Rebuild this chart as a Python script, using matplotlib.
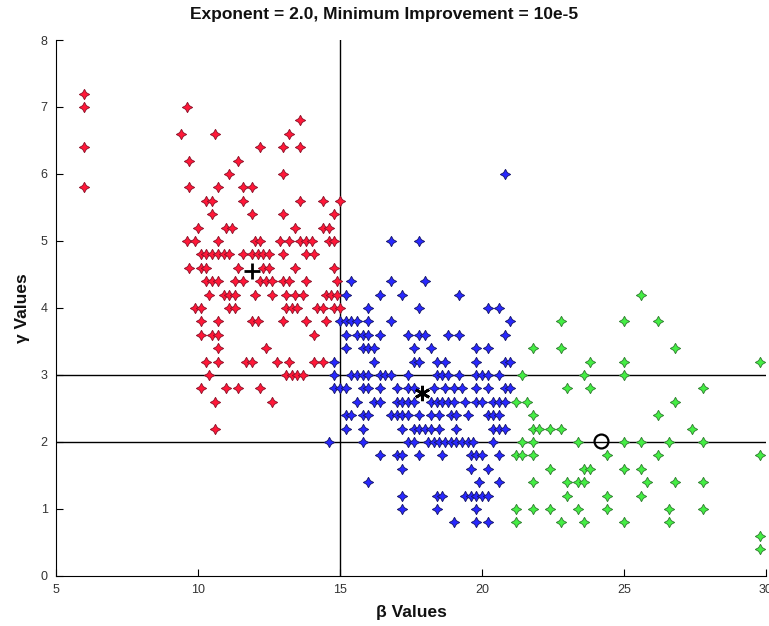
import matplotlib
matplotlib.use("Agg")
import matplotlib.pyplot as plt

# ---- data ----
red_row_y = [7.2, 7.0, 6.8, 6.6, 6.4, 6.2, 6.0, 5.8, 5.6, 5.4, 5.2, 5.0, 4.8, 4.6,
             4.4, 4.2, 4.0, 3.8, 3.6, 3.4, 3.2, 3.0, 2.8, 2.6, 2.2]
red_row_x = [
    [6.0],
    [6.0, 9.6],
    [13.6],
    [9.4, 10.6, 13.2],
    [6.0, 12.2, 13.0, 13.6],
    [9.7, 11.4],
    [11.1, 13.0],
    [6.0, 9.7, 10.7, 11.6, 11.9],
    [10.3, 10.5, 11.6, 13.6, 14.4, 15.0],
    [10.5, 11.9, 13.0, 14.8],
    [10.0, 11.0, 11.2, 13.4, 14.4, 14.6],
    [9.6, 9.9, 10.7, 12.0, 12.2, 12.9, 13.2, 13.6, 13.8, 14.0, 14.6, 14.8],
    [10.1, 10.3, 10.5, 10.7, 10.9, 11.1, 11.6, 11.9, 12.1, 12.3, 12.5, 13.0, 13.8, 14.1],
    [9.7, 10.1, 10.3, 11.4, 12.3, 12.5, 13.4, 14.8],
    [10.3, 10.5, 10.7, 11.3, 11.6, 12.2, 12.4, 12.6, 13.0, 13.2, 13.8, 14.9],
    [10.4, 10.9, 11.1, 11.3, 12.0, 12.6, 13.1, 13.4, 13.7, 14.5, 14.7, 14.9],
    [9.9, 10.1, 11.1, 11.3, 13.1, 13.3, 13.5, 14.2, 14.4, 14.8, 15.0],
    [10.1, 10.7, 11.9, 12.1, 13.0, 13.8, 14.5],
    [10.1, 10.5, 10.7, 14.1],
    [10.7, 12.4],
    [10.3, 10.7, 11.7, 11.9, 12.8, 13.2, 14.1, 14.4],
    [10.4, 13.1, 13.3, 13.5, 13.7],
    [10.1, 11.0, 11.4, 12.2],
    [10.6, 12.6],
    [10.6],
]

blue_row_y = [6.0, 5.0, 4.4, 4.2, 4.0, 3.8, 3.6, 3.4, 3.2, 3.0, 2.8, 2.6, 2.4, 2.2,
              2.0, 1.8, 1.6, 1.4, 1.2, 1.0, 0.8]
blue_row_x = [
    [20.8],
    [16.8, 17.8],
    [15.4, 16.8, 18.0],
    [15.2, 16.4, 17.2, 19.2],
    [16.0, 17.8, 20.2, 20.6],
    [15.0, 15.2, 15.4, 15.6, 16.0, 16.8, 21.0],
    [15.2, 15.6, 15.8, 16.0, 16.4, 17.4, 17.8, 18.0, 18.8, 19.2, 20.8],
    [15.2, 15.8, 16.0, 16.2, 17.6, 18.2, 19.8, 20.2],
    [14.8, 16.2, 17.6, 17.8, 18.4, 18.7, 19.8, 20.8, 21.0],
    [14.8, 15.4, 15.6, 15.8, 16.0, 16.4, 16.6, 16.8, 17.4, 18.4, 18.6, 18.8, 19.2,
     19.8, 20.0, 20.2, 20.6],
    [14.8, 15.0, 15.2, 15.8, 16.0, 16.4, 17.0, 17.4, 17.6, 18.3, 18.7, 19.0, 19.3,
     19.8, 20.2, 20.8, 21.0],
    [15.6, 16.2, 16.4, 17.0, 17.2, 17.4, 17.6, 18.2, 18.4, 18.6, 18.8, 19.0, 19.4,
     19.8, 20.0, 20.4, 20.6, 20.8],
    [15.2, 15.4, 15.8, 16.0, 16.8, 17.0, 17.2, 17.4, 17.8, 18.2, 18.5, 18.9, 19.1,
     19.5, 20.2, 20.4, 20.6],
    [15.2, 15.8, 17.2, 17.6, 17.8, 18.0, 18.2, 18.5, 19.1, 20.4, 20.6, 20.8],
    [14.6, 15.8, 17.4, 17.6, 18.1, 18.3, 18.5, 18.7, 18.9, 19.1, 19.3, 19.5, 19.7, 20.4],
    [16.4, 17.0, 17.2, 17.8, 18.6, 19.6, 19.8, 20.0, 20.6],
    [17.2, 19.6, 20.2],
    [16.0, 19.9, 20.6],
    [17.2, 18.4, 18.6, 19.4, 19.6, 19.8, 20.0, 20.2],
    [17.2, 18.4, 19.8],
    [19.0, 19.8, 20.2],
]

green_row_y = [4.2, 3.8, 3.4, 3.2, 3.0, 2.8, 2.6, 2.4, 2.2, 2.0, 1.8, 1.6, 1.4, 1.2,
               1.0, 0.8, 0.6, 0.4]
green_row_x = [
    [25.6],
    [22.8, 25.0, 26.2],
    [21.8, 22.8, 26.8],
    [23.8, 25.0, 29.8],
    [21.4, 23.6, 25.0],
    [23.0, 23.8, 27.8],
    [21.2, 21.6, 26.8],
    [21.8, 26.2],
    [21.8, 22.0, 22.4, 22.8, 27.4],
    [21.4, 21.8, 23.4, 25.0, 25.6, 26.6, 27.8],
    [21.2, 21.4, 21.8, 24.4, 26.2, 29.8],
    [22.4, 23.6, 23.8, 25.0, 25.6],
    [21.8, 23.0, 23.4, 23.6, 25.8, 26.8, 27.8],
    [23.0, 24.4, 25.6],
    [21.2, 21.8, 22.4, 23.4, 24.4, 26.6, 27.8],
    [21.2, 22.8, 23.6, 25.0, 26.6],
    [29.8],
    [29.8],
]

centroid_red = (11.9, 4.55)
centroid_blue = (17.9, 2.73)
centroid_green = (24.2, 2.02)

v_line_x = 15
h_lines_y = [3, 2]

x_ticks = [5, 10, 15, 20, 25, 30]
y_ticks = [0, 1, 2, 3, 4, 5, 6, 7, 8]

title = "Exponent = 2.0, Minimum Improvement = 10e-5"
x_label = "β Values"
y_label = "γ Values"


def expand(row_y, row_x):
    xs, ys = [], []
    for y, xl in zip(row_y, row_x):
        for x in xl:
            xs.append(x)
            ys.append(y)
    return xs, ys


plt.rcParams['font.family'] = ['Liberation Sans', 'DejaVu Sans']

fig = plt.figure(figsize=(7.69, 6.26), dpi=100)
ax = fig.add_axes([0.0728, 0.0799, 0.9232, 0.8562])

star4 = (4, 1, 0)
for (ry, rx), fc, ec in [((red_row_y, red_row_x), '#ff1838', '#8a1028'),
                          ((blue_row_y, blue_row_x), '#2828ff', '#141466'),
                          ((green_row_y, green_row_x), '#44ee44', '#2f7a2f')]:
    xs, ys = expand(ry, rx)
    ax.plot(xs, ys, linestyle='none', marker=star4, markersize=7.5,
            markerfacecolor=fc, markeredgecolor=ec, markeredgewidth=0.6, zorder=3)

ax.axvline(v_line_x, color='black', linewidth=1.0, zorder=2)
for hy in h_lines_y:
    ax.axhline(hy, color='black', linewidth=1.0, zorder=2)

ax.plot(*centroid_red, marker='+', color='black', markersize=11, markeredgewidth=2, zorder=5)
ax.plot(*centroid_blue, marker=(6, 2, 0), color='black', markersize=11,
        markeredgewidth=2, zorder=5)
ax.plot(*centroid_green, marker='o', markerfacecolor='none', markeredgecolor='black',
        markersize=10, markeredgewidth=1.6, zorder=5)

ax.set_xlim(5, 30)
ax.set_ylim(0, 8)
ax.set_xticks(x_ticks)
ax.set_yticks(y_ticks)
ax.tick_params(direction='in', length=5, width=0.8, labelsize=9, pad=6,
               labelcolor='#333333')
for lbl in ax.get_xticklabels() + ax.get_yticklabels():
    lbl.set_family(['Liberation Sans Narrow', 'Liberation Sans', 'DejaVu Sans'])
for side in ['top', 'right']:
    ax.spines[side].set_visible(False)
for side in ['left', 'bottom']:
    ax.spines[side].set_linewidth(0.8)

fig.text(0.5, 0.977, title, fontsize=12.5, fontweight='bold', ha='center', va='center',
         color='#111111')
ax.set_xlabel(x_label, fontsize=12.5, fontweight='bold', labelpad=6, color='#111111')
ax.set_ylabel(y_label, fontsize=12.5, fontweight='bold', labelpad=8, color='#111111')

fig.savefig("out.png", dpi=100)
